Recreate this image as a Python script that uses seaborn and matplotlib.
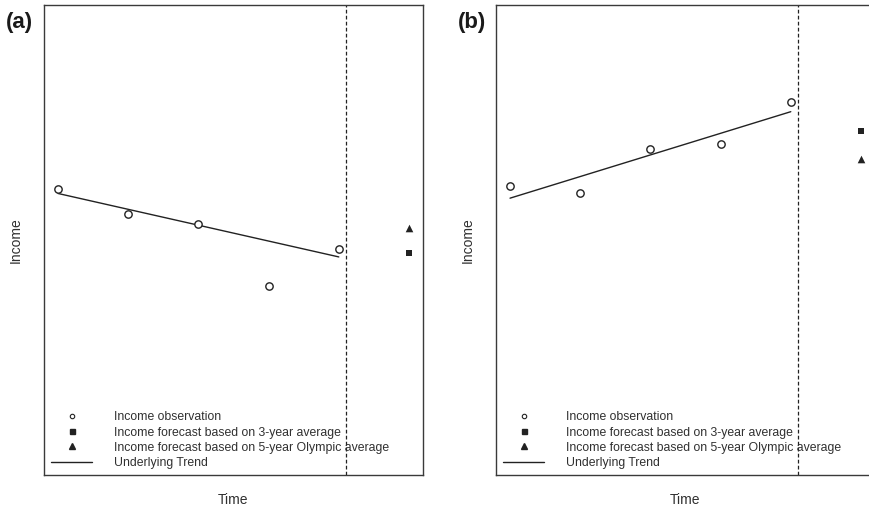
import matplotlib
matplotlib.use("Agg")
import matplotlib.pyplot as plt
from matplotlib.lines import Line2D
import seaborn as sns
import pandas as pd

# Observation years and forecast year
years = [1, 2, 3, 4, 5]
forecast_year = 6
cutoff_year = 5.1
trend_years = [1, 5]

# Panel (a): declining income
income_a = [60.9, 55.5, 53.5, 40.3, 48.0]
avg3_a = 47.3
olympic_a = 52.5
trend_a = [59.9, 46.4]

# Panel (b): rising income
income_b = [61.5, 59.9, 69.4, 70.4, 79.4]
avg3_b = 73.2
olympic_b = 67.2
trend_b = [58.9, 77.3]

legend_labels = [
    "Income observation",
    "Income forecast based on 3-year average",
    "Income forecast based on 5-year Olympic average",
    "Underlying Trend",
]

sns.set_theme(style="white")
plt.rcParams["font.family"] = ["Liberation Sans", "DejaVu Sans"]

INK = "#222222"
TEXT = "#303030"

fig = plt.figure(figsize=(8.69, 5.09), dpi=100)
ax_a = fig.add_axes([44 / 869, 34 / 509, 379 / 869, 470 / 509])
ax_b = fig.add_axes([496 / 869, 34 / 509, 379 / 869, 470 / 509])


def draw_panel(ax, income, avg3, olympic, trend, tag):
    obs = pd.DataFrame({"Time": years, "Income": income})
    sns.scatterplot(data=obs, x="Time", y="Income", ax=ax, marker="o",
                    s=28, facecolor="white", edgecolor=INK, linewidth=1.0,
                    zorder=3)
    fc = pd.DataFrame({"Time": [forecast_year], "Income": [avg3]})
    sns.scatterplot(data=fc, x="Time", y="Income", ax=ax, marker="s",
                    s=22, color=INK, edgecolor=INK, linewidth=0, zorder=3)
    ol = pd.DataFrame({"Time": [forecast_year], "Income": [olympic]})
    sns.scatterplot(data=ol, x="Time", y="Income", ax=ax, marker="^",
                    s=30, color=INK, edgecolor=INK, linewidth=0, zorder=3)
    tr = pd.DataFrame({"Time": trend_years, "Income": trend})
    sns.lineplot(data=tr, x="Time", y="Income", ax=ax, color=INK,
                 linewidth=1.0, zorder=2)
    ax.axvline(cutoff_year, color=INK, linewidth=0.9,
               linestyle=(0, (3, 1.8)), zorder=1)

    ax.set_xlim(0.8, 6.2)
    ax.set_ylim(0, 100)
    ax.set_xticks([])
    ax.set_yticks([])
    ax.set_xlabel("Time", fontsize=10, color=TEXT, labelpad=13)
    ax.set_ylabel("Income", fontsize=10, color=TEXT, labelpad=15)
    for sp in ax.spines.values():
        sp.set_color("#3a3a3a")
        sp.set_linewidth(1.0)

    handles = [
        Line2D([], [], linestyle="none", marker="o", markersize=3.2,
               markerfacecolor="white", markeredgecolor=INK, markeredgewidth=0.8),
        Line2D([], [], linestyle="none", marker="s", markersize=3.6,
               color=INK),
        Line2D([], [], linestyle="none", marker="^", markersize=4.0,
               color=INK),
        Line2D([], [], color=INK, linewidth=1.0),
    ]
    ax.legend(handles, legend_labels, loc="lower left",
              bbox_to_anchor=(0.018, 0.013), frameon=False,
              fontsize=8.8, labelcolor=TEXT, handlelength=3.4,
              handletextpad=1.75, labelspacing=0.26, borderpad=0,
              borderaxespad=0)

    ax.text(-0.1, 0.962, tag, transform=ax.transAxes, fontsize=16,
            fontweight="bold", color="#1a1a1a", ha="left", va="center")


draw_panel(ax_a, income_a, avg3_a, olympic_a, trend_a, "(a)")
draw_panel(ax_b, income_b, avg3_b, olympic_b, trend_b, "(b)")

fig.savefig("out.png", dpi=100)
